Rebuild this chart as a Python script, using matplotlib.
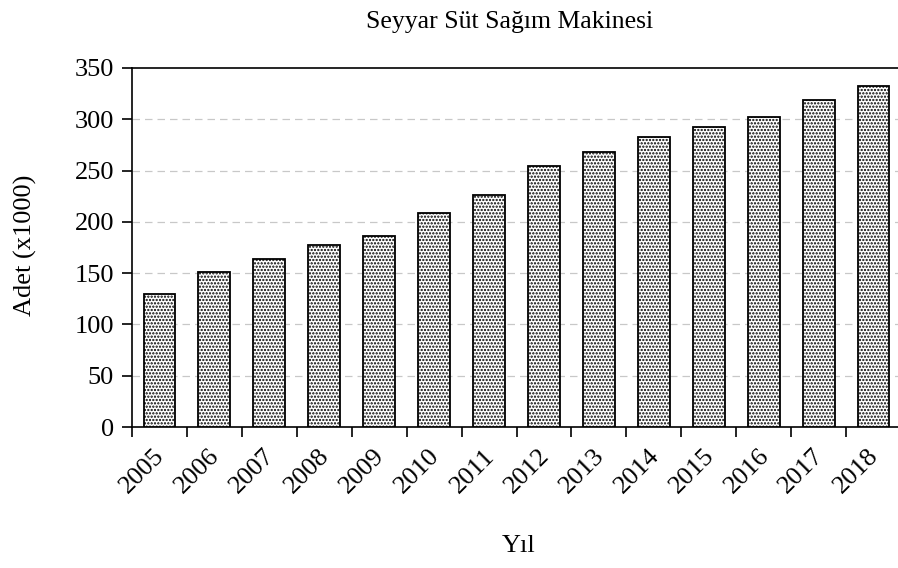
import matplotlib
matplotlib.use("Agg")
import matplotlib.pyplot as plt
import matplotlib.transforms as mtransforms
import numpy as np

years = ["2005", "2006", "2007", "2008", "2009", "2010", "2011",
         "2012", "2013", "2014", "2015", "2016", "2017", "2018"]
values = [130, 151, 164, 177, 186, 209, 226, 254, 268, 283, 292, 302, 319, 332]
yticks = [0, 50, 100, 150, 200, 250, 300, 350]

plt.rcParams['font.family'] = ['Liberation Serif', 'DejaVu Serif']
plt.rcParams['hatch.linewidth'] = 1.1
plt.rcParams['hatch.color'] = '#444444'

fig = plt.figure(figsize=(8.98, 5.68), dpi=100)
ax = fig.add_axes([132/898, 1 - 427/568, (901 - 132)/898, (427 - 68)/568])

x = np.arange(len(years))
ax.bar(x, values, width=0.58, facecolor='white', edgecolor='black',
       linewidth=1.3, hatch='.....', zorder=3)

ax.set_xlim(-0.5, len(years) - 0.5)
ax.set_ylim(0, 350)
ax.set_yticks(yticks)
ax.set_yticklabels([str(v) for v in yticks], fontsize=19)
ax.set_xticks(x - 0.5, minor=False)
ax.set_xticklabels([])
ax.set_xticks(x, minor=True)
ax.set_xticklabels(years, minor=True, rotation=45, ha='right',
                   rotation_mode='anchor', fontsize=19)
ax.tick_params(axis='x', which='minor', length=0, pad=13)
ax.tick_params(axis='x', which='major', length=7, width=1.2, direction='out')
ax.tick_params(axis='y', length=7, width=1.2, direction='out', pad=6)

offset = mtransforms.ScaledTranslation(-6/100, 0, fig.dpi_scale_trans)
for lab in ax.get_xticklabels(minor=True):
    lab.set_transform(lab.get_transform() + offset)

for v in yticks[1:-1]:
    ax.axhline(v, color='#c8c8c8', linestyle=(0, (6, 4)), linewidth=0.9, zorder=1)

for s in ['left', 'bottom', 'top']:
    ax.spines[s].set_linewidth(1.2)
ax.spines['right'].set_visible(False)

fig.text(25/898, 1 - 245/568, "Adet (x1000)", fontsize=19, rotation=90,
         ha='center', va='center')
fig.text(519/898, 1 - 546/568, "Yıl", fontsize=19, ha='center', va='center')
fig.text(510/898, 1 - 22/568, "Seyyar Süt Sağım Makinesi", fontsize=18.5,
         ha='center', va='center')

fig.savefig("out.png", dpi=100)
